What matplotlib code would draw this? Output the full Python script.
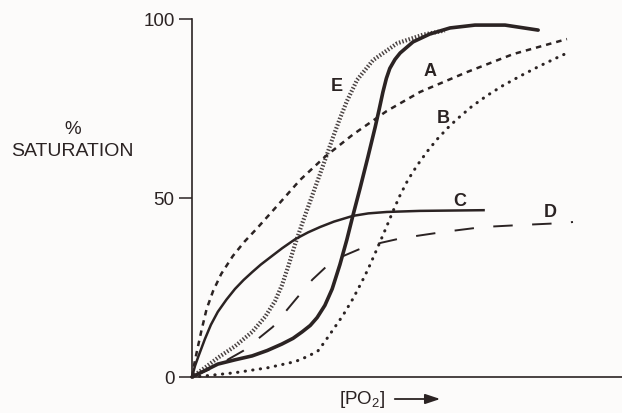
import numpy as np
import matplotlib.pyplot as plt

# dissociation curves ([PO2] in arbitrary units 0-100, % saturation)
a_x = [0, 0.5, 1.2, 2.2, 3.4, 4.9, 6.8, 9.5, 12.2, 15.1, 19.8, 25.1, 30.9,
       37.4, 45.3, 53.0, 64.0, 74.7, 87.2]
a_y = [0, 3.5, 7.5, 13.0, 19.0, 24.0, 28.8, 33.8, 37.8, 41.5, 47.8, 55.0, 61.5,
       67.7, 74.3, 79.6, 85.2, 90.2, 94.4]

b_x = [0, 3.0, 10.0, 17.7, 24.0, 27.0, 29.3, 30.9, 32.8, 35.1, 37.4, 39.5, 40.9,
       42.6, 44.4, 45.6, 46.7, 48.4, 50.2, 52.3, 54.7, 57.0, 59.5, 61.6, 65.1,
       68.6, 72.3, 76.7, 80.9, 84.9, 87.4]
b_y = [0, 0.3, 1.2, 2.6, 4.3, 5.8, 7.3, 9.9, 13.2, 17.2, 21.8, 26.6, 30.0,
       34.6, 39.6, 43.0, 46.2, 50.8, 55.0, 59.0, 63.0, 66.4, 69.6, 72.0, 75.6,
       78.6, 81.4, 84.3, 86.9, 89.2, 90.6]

c_x = [0, 0.7, 1.5, 3.0, 4.4, 6.0, 8.0, 10.0, 12.0, 14.0, 16.0, 18.6, 21.0,
       24.0, 27.0, 29.8, 33.0, 37.4, 41.0, 45.3, 53.0, 68.1]
c_y = [0, 3.1, 5.8, 10.6, 14.6, 18.2, 21.6, 24.6, 27.1, 29.3, 31.4, 33.8, 36.0,
       38.5, 40.4, 41.9, 43.4, 45.0, 45.7, 46.1, 46.4, 46.6]

d_x = [0, 5.3, 11.9, 18.8, 24.2, 28.0, 31.2, 35.0, 39.1, 44.0, 48.8, 58.4,
       67.7, 77.2, 86.3, 88.6]
d_y = [0, 2.8, 7.3, 14.0, 21.8, 27.2, 30.8, 33.7, 35.8, 37.5, 38.8, 40.5,
       41.9, 42.5, 43.0, 43.3]

e_x = [0, 3.0, 6.05, 10.0, 14.0, 17.0, 19.3, 20.9, 22.3, 23.95, 25.6, 27.9,
       29.8, 31.4, 32.8, 34.4, 36.0, 38.4, 42.1, 47.7, 53.7, 58.8]
e_y = [0, 2.6, 5.4, 8.6, 12.6, 16.8, 21.2, 25.6, 30.6, 37.0, 42.8, 50.5,
       56.8, 62.2, 67.0, 72.2, 77.0, 83.0, 88.5, 93.2, 95.6, 96.8]

# unlabelled sigmoid (heavy solid)
hb_x = [0, 3.0, 6.0, 10.0, 14.0, 17.5, 20.9, 23.5, 25.6, 27.5, 29.1, 30.9,
        32.6, 34.4, 36.0, 37.4, 39.1, 40.9, 42.6, 43.5, 44.4, 45.2, 46.0,
        47.2, 48.4, 51.4, 55.3, 60.0, 65.8, 72.8, 80.5]
hb_y = [0, 1.8, 3.6, 4.8, 5.9, 7.4, 9.2, 10.8, 12.6, 14.4, 16.6, 20.0,
        24.6, 31.4, 38.3, 45.0, 52.8, 61.4, 69.8, 74.6, 79.6, 83.4, 86.2,
        88.7, 90.5, 93.6, 95.8, 97.5, 98.3, 98.3, 96.9]

y_ticks = [0, 50, 100]

W, H = 622, 414
bg = '#fcfbfa'
ink = '#2b2323'

fig = plt.figure(figsize=(W / 100, H / 100), dpi=100, facecolor=bg)
ax = fig.add_axes([192 / W, (H - 378) / H, 430 / W, 358 / H])
ax.set_facecolor(bg)

ax.plot(e_x, e_y, color='#4a4242', lw=3.0, dashes=(0.35, 0.45),
        dash_capstyle='butt', clip_on=False)
ax.plot(a_x, a_y, color=ink, lw=1.8, dashes=(2.2, 2.0), clip_on=False)
ax.plot(b_x, b_y, color=ink, lw=2.2, dashes=(0.1, 2.4),
        dash_capstyle='round', clip_on=False)
ax.plot(c_x, c_y, color=ink, lw=1.8, solid_capstyle='butt', clip_on=False)
ax.plot(d_x, d_y, color=ink, lw=1.4, dashes=(10, 10), clip_on=False)
ax.plot(hb_x, hb_y, color=ink, lw=2.6, solid_capstyle='round',
        solid_joinstyle='round', clip_on=False)

lab = dict(color=ink, fontsize=13, fontweight='bold', family='Liberation Sans',
           ha='center', va='center')
ax.text(33.7, 81.5, 'E', **lab)
ax.text(55.3, 85.5, 'A', **lab)
ax.text(58.4, 72.4, 'B', **lab)
ax.text(62.3, 49.3, 'C', **lab)
ax.text(83.3, 46.2, 'D', **lab)

ax.set_xlim(0, 100)
ax.set_ylim(0, 100)
ax.set_xticks([])
ax.set_yticks(y_ticks)
ax.set_yticklabels([str(t) for t in y_ticks], family='Liberation Sans',
                   fontsize=13.5, color=ink)
ax.tick_params(axis='y', length=9.5, width=1.1, color=ink, pad=3)
for s in ['top', 'right']:
    ax.spines[s].set_visible(False)
for s in ['left', 'bottom']:
    ax.spines[s].set_color(ink)
    ax.spines[s].set_linewidth(1.2)

fig.text(73 / W, 1 - 129 / H, '%', family='Liberation Sans', fontsize=13.5,
         color=ink, ha='center', va='center')
fig.text(72 / W, 1 - 152 / H, 'SATURATION', family='Liberation Sans',
         fontsize=14, color=ink, ha='center', va='center')

plt.rcParams['mathtext.fontset'] = 'custom'
plt.rcParams['mathtext.rm'] = 'Liberation Sans'
fig.text(362 / W, 1 - 400 / H, r'[PO$_2$]', family='Liberation Sans',
         fontsize=13.5, color=ink, ha='center', va='center')
ax.annotate('', xy=(443 / W, 1 - 400 / H), xytext=(392 / W, 1 - 400 / H),
            xycoords='figure fraction', textcoords='figure fraction',
            arrowprops=dict(arrowstyle='-|>,head_length=0.9,head_width=0.3',
                            color=ink, lw=1.3))

fig.savefig('out.png', dpi=100, facecolor=bg)
